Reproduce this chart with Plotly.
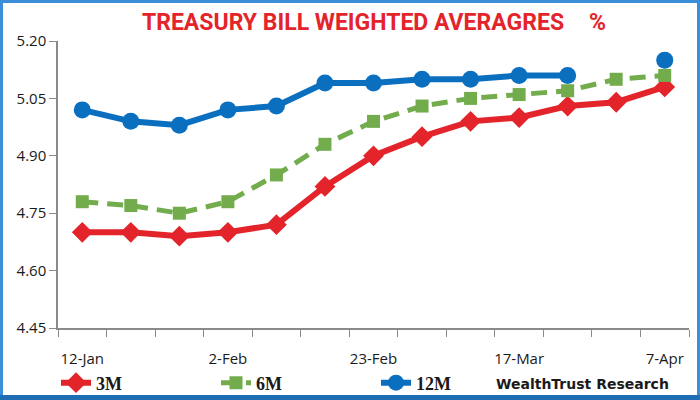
"""
Treasury bill weighted averages (3M / 6M / 12M) line chart
"""

import plotly.graph_objects as go

dates = ["12-Jan", "19-Jan", "26-Jan", "2-Feb", "9-Feb", "16-Feb", "23-Feb",
         "2-Mar", "9-Mar", "17-Mar", "24-Mar", "31-Mar", "7-Apr"]
tick_labels = ["12-Jan", "2-Feb", "23-Feb", "17-Mar", "7-Apr"]

rate_3m = [4.70, 4.70, 4.69, 4.70, 4.72, 4.82, 4.90, 4.95, 4.99, 5.00, 5.03, 5.04, 5.08]
rate_6m = [4.78, 4.77, 4.75, 4.78, 4.85, 4.93, 4.99, 5.03, 5.05, 5.06, 5.07, 5.10, 5.11]
rate_12m = [5.02, 4.99, 4.98, 5.02, 5.03, 5.09, 5.09, 5.10, 5.10, 5.11, 5.11, None, 5.15]

y_ticks = [4.45, 4.60, 4.75, 4.90, 5.05, 5.20]

COLORS = {
    "red":    "#e3242b",
    "green":  "#72ac4d",
    "blue":   "#0b6fc0",
    "axis":   "#8a8a8a",
    "text":   "#1a1a1a",
    "border": "#3a8fd8",
    "bottom": "#1f6db3",
}

W, H = 700, 400
M = dict(l=58, r=11, t=41, b=72, autoexpand=False)
PW = W - M["l"] - M["r"]
PH = H - M["t"] - M["b"]

x = list(range(len(dates)))

fig = go.Figure()
fig.add_trace(go.Scatter(
    x=x, y=rate_3m, name="3M", mode="lines+markers",
    line=dict(color=COLORS["red"], width=6),
    marker=dict(symbol="diamond", size=16, color=COLORS["red"]),
    customdata=dates, hovertemplate="%{customdata}: %{y:.2f}%<extra>3M</extra>",
))
fig.add_trace(go.Scatter(
    x=x, y=rate_6m, name="6M", mode="lines+markers",
    line=dict(color=COLORS["green"], width=5, dash="16px,9px"),
    marker=dict(symbol="square", size=13, color=COLORS["green"]),
    customdata=dates, hovertemplate="%{customdata}: %{y:.2f}%<extra>6M</extra>",
))
fig.add_trace(go.Scatter(
    x=x, y=rate_12m, name="12M", mode="lines+markers",
    line=dict(color=COLORS["blue"], width=6),
    marker=dict(symbol="circle", size=17, color=COLORS["blue"]),
    connectgaps=False,
    customdata=dates, hovertemplate="%{customdata}: %{y:.2f}%<extra>12M</extra>",
))


# paper coords for pixel positions (border drawn around whole image)
def px_x(p):
    return (p - M["l"]) / PW


def px_y(p):
    return (H - M["b"] - p) / PH


fig.add_shape(type="rect", xref="paper", yref="paper",
              x0=px_x(1.5), x1=px_x(W - 1.5), y0=px_y(H - 3), y1=px_y(1.5),
              line=dict(color=COLORS["border"], width=3), layer="above")
fig.add_shape(type="line", xref="paper", yref="paper",
              x0=px_x(0), x1=px_x(W), y0=px_y(H - 2.5), y1=px_y(H - 2.5),
              line=dict(color=COLORS["bottom"], width=5), layer="above")

fig.add_annotation(
    text="%", xref="paper", yref="paper",
    x=px_x(597), y=px_y(22), xanchor="center", yanchor="middle", showarrow=False,
    font=dict(family="Roboto, sans-serif", size=23, color=COLORS["red"], weight="bold"),
)
fig.add_annotation(
    text="WealthTrust Research", xref="paper", yref="paper",
    x=px_x(582), y=px_y(384), xanchor="center", yanchor="middle", showarrow=False,
    font=dict(family="DejaVu Sans", size=14, color=COLORS["text"], weight="bold"),
)

fig.update_layout(
    width=W, height=H,
    paper_bgcolor="white", plot_bgcolor="white",
    margin=M,
    title=dict(
        text="TREASURY BILL WEIGHTED AVERAGRES",
        x=353 / W, xanchor="center", y=1 - 22 / H, yanchor="middle",
        font=dict(family="Roboto, sans-serif", size=23,
                  color=COLORS["red"], weight="bold"),
    ),
    font=dict(family="Open Sans, sans-serif", size=15, color=COLORS["text"]),
    showlegend=True,
    legend=dict(
        orientation="h", xref="container", yref="container",
        x=56 / W, xanchor="left", y=17 / H, yanchor="middle",
        entrywidth=115, entrywidthmode="pixels",
        font=dict(family="Liberation Serif, serif", size=18, color=COLORS["text"],
                  weight="bold"),
        bgcolor="rgba(0,0,0,0)", itemclick=False,
    ),
    hovermode="closest",
)

fig.update_xaxes(
    range=[-0.5, len(dates) - 0.5],
    tickmode="array",
    tickvals=[dates.index(t) for t in tick_labels],
    ticktext=tick_labels,
    ticks="", ticklabelstandoff=16,
    minor=dict(tickmode="array", tickvals=[i - 0.5 for i in range(len(dates) + 1)],
               ticks="outside", ticklen=7, tickcolor=COLORS["axis"], tickwidth=1),
    showline=True, linecolor=COLORS["axis"], linewidth=1.5,
    showgrid=False, zeroline=False,
    tickfont=dict(size=15),
)
fig.update_yaxes(
    range=[y_ticks[0], y_ticks[-1]],
    tickmode="array", tickvals=y_ticks,
    ticktext=[f"{v:.2f}" for v in y_ticks],
    ticks="outside", ticklen=7, tickcolor=COLORS["axis"],
    showline=True, linecolor=COLORS["axis"], linewidth=1.5,
    showgrid=False, zeroline=False,
    tickfont=dict(size=15),
)

# page body has a default 8px margin; drop it so the figure fills the window
fig.write_html("out.html", config={"displayModeBar": False},
               post_script="document.body.style.margin='0';")
